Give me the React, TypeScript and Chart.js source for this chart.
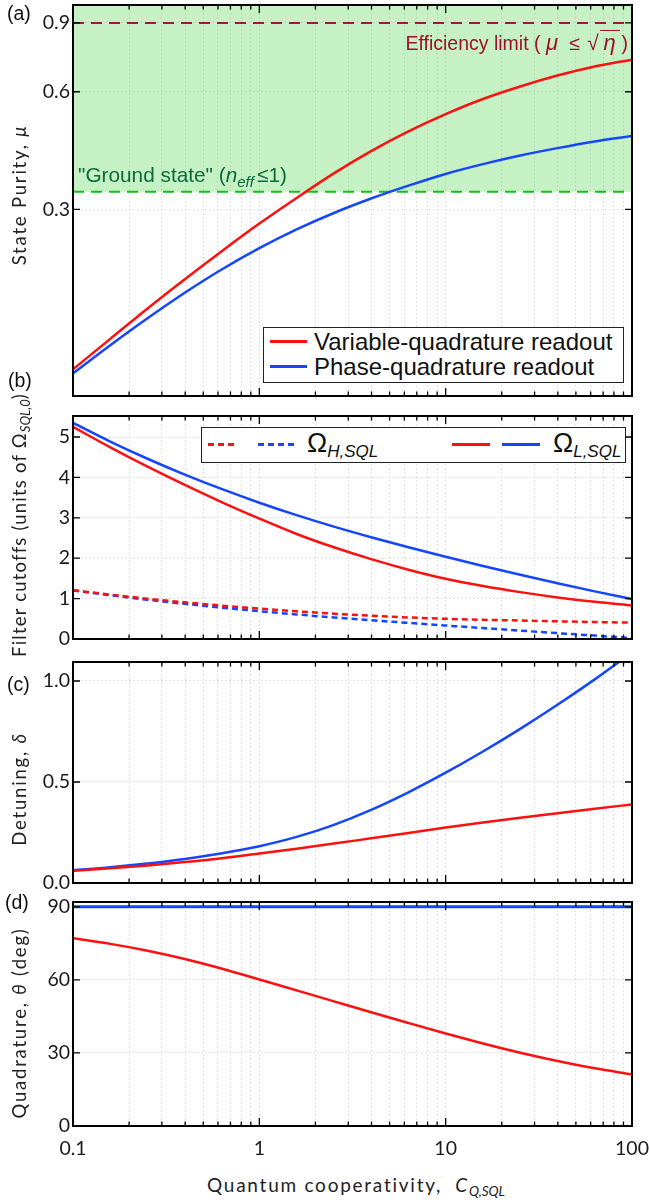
import React, { useEffect, useRef } from "react";
import { Chart, registerables } from "chart.js";

Chart.register(...registerables);

// ---------------- data ----------------
const xValues = [0.1, 0.1585, 0.2512, 0.3981, 0.631, 1, 1.585, 2.512, 3.981, 6.31, 10, 15.85, 25.12, 39.81, 63.1, 100];

const purityVariable = [0.117, 0.14, 0.1675, 0.199, 0.235, 0.276, 0.321, 0.371, 0.423, 0.475, 0.526, 0.575, 0.619, 0.66, 0.696, 0.725];
const purityPhase = [0.1143, 0.1349, 0.1581, 0.1837, 0.2109, 0.2388, 0.2667, 0.2938, 0.3199, 0.3451, 0.3698, 0.3917, 0.4121, 0.4305, 0.4477, 0.4624];
const limitX = [0.1, 100];
const efficiencyLimit = [0.9, 0.9];
const groundStateLimit = [0.333, 0.333];

const cutoffLowVariable = [5.25, 4.744, 4.266, 3.814, 3.384, 2.98, 2.6, 2.27, 1.977, 1.716, 1.49, 1.31, 1.16, 1.03, 0.92, 0.83];
const cutoffLowPhase = [5.35, 4.888, 4.462, 4.07, 3.708, 3.374, 3.066, 2.782, 2.519, 2.271, 2.035, 1.809, 1.591, 1.381, 1.179, 0.99];
const cutoffHighVariable = [1.21, 1.099, 0.999, 0.908, 0.826, 0.752, 0.686, 0.627, 0.575, 0.533, 0.5, 0.476, 0.457, 0.438, 0.42, 0.405];
const cutoffHighPhase = [1.2, 1.081, 0.971, 0.87, 0.776, 0.689, 0.608, 0.534, 0.465, 0.399, 0.334, 0.27, 0.207, 0.145, 0.084, 0.024];

const detuningVariable = [0.061, 0.073, 0.087, 0.104, 0.123, 0.146, 0.17, 0.195, 0.221, 0.247, 0.275, 0.2995, 0.323, 0.3456, 0.3675, 0.389];
const detuningPhase = [0.063, 0.0778, 0.0962, 0.1189, 0.1473, 0.1821, 0.2281, 0.2881, 0.3621, 0.4491, 0.5461, 0.6511, 0.7631, 0.8821, 1.0081, 1.1411];

const quadratureVariable = [77.1, 74.8, 72.0, 68.6, 64.6, 60.2, 55.7, 51.2, 46.7, 42.3, 38.0, 33.9, 30.1, 26.7, 23.7, 21.2];
const quadraturePhase = [90, 90, 90, 90, 90, 90, 90, 90, 90, 90, 90, 90, 90, 90, 90, 90];

// ticks
const xGridTicks = [0.1, 0.2, 0.3, 0.4, 0.5, 0.6, 0.7, 0.8, 0.9, 1, 2, 3, 4, 5, 6, 7, 8, 9, 10, 20, 30, 40, 50, 60, 70, 80, 90, 100];
const xMajorTicks = [0.1, 1, 10, 100];
const xTickLabels = ["0.1", "1", "10", "100"];

const purityTicks = [0.3, 0.6, 0.9];
const purityLabels = ["0.3", "0.6", "0.9"];
const cutoffTicks = [0, 1, 2, 3, 4, 5];
const cutoffLabels = ["0", "1", "2", "3", "4", "5"];
const detuningTicks = [0, 0.5, 1.0];
const detuningLabels = ["0.0", "0.5", "1.0"];
const quadratureTicks = [0, 30, 60, 90];
const quadratureLabels = ["0", "30", "60", "90"];

// ---------------- styling ----------------
const RED = "#ff1010";
const BLUE = "#1446ff";
const TICK_FONT = { family: "Lato", size: 19.5 };

const pts = (xs: number[], ys: number[]) => xs.map((x, i) => ({ x, y: ys[i] }));

function framePlugin(yTicks: number[]) {
  return {
    id: "frame",
    afterDraw(chart: any) {
      const { ctx, chartArea: a, scales } = chart;
      const xs = scales.x;
      const ys = scales.y;
      ctx.save();
      ctx.strokeStyle = "#000";
      ctx.lineWidth = 1.3;
      ctx.beginPath();
      xGridTicks.forEach((v) => {
        const px = xs.getPixelForValue(v);
        const len = xMajorTicks.includes(v) ? 8 : 4.5;
        ctx.moveTo(px, a.top);
        ctx.lineTo(px, a.top + len);
        ctx.moveTo(px, a.bottom);
        ctx.lineTo(px, a.bottom - len);
      });
      yTicks.forEach((v) => {
        const py = ys.getPixelForValue(v);
        ctx.moveTo(a.left, py);
        ctx.lineTo(a.left + 7, py);
        ctx.moveTo(a.right, py);
        ctx.lineTo(a.right - 7, py);
      });
      ctx.stroke();
      ctx.lineWidth = 2;
      ctx.strokeRect(a.left, a.top, a.right - a.left, a.bottom - a.top);
      ctx.restore();
    },
  };
}

interface PanelSpec {
  canvasTop: number;
  canvasHeight: number;
  padTop: number;
  padBottom: number;
  xHeight: number;
  showX: boolean;
  yType: string;
  yMin: number;
  yMax: number;
  yTicks: number[];
  yLabels: string[];
  datasets: any[];
}

function buildConfig(p: PanelSpec): any {
  const grid = { color: "#e2e2e2", lineWidth: 1, drawTicks: false };
  const border = { display: false, dash: [2, 2] };
  return {
    type: "line",
    data: { datasets: p.datasets },
    options: {
      responsive: false,
      animation: false,
      events: [],
      layout: { padding: { left: 0, right: 18, top: p.padTop, bottom: p.padBottom } },
      plugins: { legend: { display: false }, tooltip: { enabled: false } },
      elements: {
        point: { radius: 0 },
        line: { borderWidth: 2.5, cubicInterpolationMode: "monotone" },
      },
      scales: {
        x: {
          type: "logarithmic",
          min: 0.1,
          max: 100,
          afterBuildTicks: (s: any) => {
            s.ticks = xGridTicks.map((v) => ({ value: v }));
          },
          afterFit: (s: any) => {
            s.height = p.xHeight;
            s.paddingLeft = 0;
            s.paddingRight = 0;
          },
          grid,
          border,
          ticks: {
            display: p.showX,
            autoSkip: false,
            maxRotation: 0,
            padding: 11,
            font: TICK_FONT,
            color: "#1a1a1a",
            callback: (v: number) => {
              const i = xMajorTicks.indexOf(v);
              return i >= 0 ? xTickLabels[i] : "";
            },
          },
        },
        y: {
          type: p.yType,
          min: p.yMin,
          max: p.yMax,
          afterBuildTicks: (s: any) => {
            s.ticks = p.yTicks.map((v) => ({ value: v }));
          },
          afterFit: (s: any) => {
            s.width = 73;
            s.paddingTop = 0;
            s.paddingBottom = 0;
          },
          grid,
          border,
          ticks: {
            padding: 3,
            autoSkip: false,
            font: TICK_FONT,
            color: "#1a1a1a",
            callback: (v: number) => {
              const i = p.yTicks.indexOf(v);
              return i >= 0 ? p.yLabels[i] : "";
            },
          },
        },
      },
    },
    plugins: [framePlugin(p.yTicks)],
  };
}

const panels: PanelSpec[] = [
  {
    canvasTop: 0,
    canvasHeight: 408,
    padTop: 5,
    padBottom: 12,
    xHeight: 0,
    showX: false,
    yType: "logarithmic",
    yMin: 0.1,
    yMax: 1.0,
    yTicks: purityTicks,
    yLabels: purityLabels,
    datasets: [
      { data: pts(xValues, purityVariable), borderColor: RED },
      { data: pts(xValues, purityPhase), borderColor: BLUE },
      { data: pts(limitX, efficiencyLimit), borderColor: "#9e1642", borderDash: [11, 7], borderWidth: 2 },
      {
        data: pts(limitX, groundStateLimit),
        borderColor: "#16c016",
        borderDash: [11, 7],
        borderWidth: 2,
        fill: "end",
        backgroundColor: "rgba(40,205,40,0.27)",
      },
    ],
  },
  {
    canvasTop: 404,
    canvasHeight: 247,
    padTop: 12,
    padBottom: 12,
    xHeight: 0,
    showX: false,
    yType: "linear",
    yMin: 0,
    yMax: 5.52,
    yTicks: cutoffTicks,
    yLabels: cutoffLabels,
    datasets: [
      { data: pts(xValues, cutoffLowVariable), borderColor: RED },
      { data: pts(xValues, cutoffLowPhase), borderColor: BLUE },
      { data: pts(xValues, cutoffHighVariable), borderColor: RED, borderDash: [6, 4] },
      { data: pts(xValues, cutoffHighPhase), borderColor: BLUE, borderDash: [6, 4] },
    ],
  },
  {
    canvasTop: 650,
    canvasHeight: 245,
    padTop: 12,
    padBottom: 12,
    xHeight: 0,
    showX: false,
    yType: "linear",
    yMin: 0,
    yMax: 1.094,
    yTicks: detuningTicks,
    yLabels: detuningLabels,
    datasets: [
      { data: pts(xValues, detuningVariable), borderColor: RED },
      { data: pts(xValues, detuningPhase), borderColor: BLUE },
    ],
  },
  {
    canvasTop: 890,
    canvasHeight: 280,
    padTop: 12,
    padBottom: 0,
    xHeight: 44,
    showX: true,
    yType: "linear",
    yMin: 0,
    yMax: 92,
    yTicks: quadratureTicks,
    yLabels: quadratureLabels,
    datasets: [
      { data: pts(xValues, quadratureVariable), borderColor: RED },
      { data: pts(xValues, quadraturePhase), borderColor: BLUE, borderWidth: 3 },
    ],
  },
];

// ---------------- text helpers ----------------
const AX_FONT: React.CSSProperties = {
  fontFamily: "Lato",
  fontSize: 18.5,
  letterSpacing: "1.8px",
  color: "#222",
  whiteSpace: "nowrap",
  lineHeight: 1,
};
const HELV: React.CSSProperties = { fontFamily: "'Liberation Sans', Arial, sans-serif", whiteSpace: "nowrap", lineHeight: 1 };

function YTitle({ x, y, spacing, children }: { x: number; y: number; spacing?: number; children: React.ReactNode }) {
  return (
    <div
      style={{
        ...AX_FONT,
        letterSpacing: `${spacing ?? 1.8}px`,
        position: "absolute",
        left: x,
        top: y,
        transform: "translate(-50%, -50%) rotate(-90deg)",
      }}
    >
      {children}
    </div>
  );
}

function PanelTag({ x, y, text }: { x: number; y: number; text: string }) {
  return (
    <div style={{ ...HELV, position: "absolute", left: x, top: y, transform: "translateY(-50%)", fontSize: 19.5, color: "#111" }}>
      {text}
    </div>
  );
}

const sub = (t: string, size: number, shift: string) => (
  <span style={{ fontSize: size, fontStyle: "italic", verticalAlign: shift, letterSpacing: 0 }}>{t}</span>
);

const box = (w: number, content: React.ReactNode, extra?: React.CSSProperties) => (
  <span style={{ display: "inline-block", width: w, textAlign: "center", ...extra }}>{content}</span>
);

function Swatch({ x, y, w, color, dashed }: { x: number; y: number; w: number; color: string; dashed?: boolean }) {
  return (
    <div
      style={{
        position: "absolute",
        left: x,
        top: y - 1.5,
        width: w,
        height: 3,
        background: dashed ? `repeating-linear-gradient(90deg, ${color} 0 6px, transparent 6px 10px)` : color,
      }}
    />
  );
}

export default function App() {
  const r0 = useRef<HTMLCanvasElement>(null);
  const r1 = useRef<HTMLCanvasElement>(null);
  const r2 = useRef<HTMLCanvasElement>(null);
  const r3 = useRef<HTMLCanvasElement>(null);
  const refs = [r0, r1, r2, r3];

  useEffect(() => {
    const charts = panels.map((p, i) => new Chart(refs[i].current as HTMLCanvasElement, buildConfig(p)));
    return () => charts.forEach((c) => c.destroy());
  }, []);

  return (
    <div style={{ position: "absolute", left: 0, top: 0, width: 650, height: 1204, background: "#fff", overflow: "hidden" }}>
      {panels.map((p, i) => (
        <canvas
          key={i}
          ref={refs[i]}
          width={650}
          height={p.canvasHeight}
          style={{ position: "absolute", left: 0, top: p.canvasTop, width: 650, height: p.canvasHeight }}
        />
      ))}

      {/* panel tags */}
      <PanelTag x={7} y={14} text="(a)" />
      <PanelTag x={8} y={381} text="(b)" />
      <PanelTag x={7} y={685} text="(c)" />
      <PanelTag x={5} y={903} text="(d)" />

      {/* y titles */}
      <YTitle x={19} y={195}>
        State Purity, <i>μ</i>
      </YTitle>
      <YTitle x={21} y={525} spacing={1.2}>
        Filter cutoffs (units of Ω{sub("SQL,0", 13, "-0.25em")})
      </YTitle>
      <YTitle x={19} y={789}>
        Detuning, <i>δ</i>
      </YTitle>
      <YTitle x={19} y={1023}>
        Quadrature, <i>θ</i> (deg)
      </YTitle>

      {/* x title */}
      <div style={{ ...AX_FONT, fontSize: 19, letterSpacing: "1.75px", position: "absolute", left: 207, top: 1187, transform: "translateY(-50%)" }}>
        Quantum cooperativity,&nbsp; <i>C</i>
        {sub("Q,SQL", 13.5, "-0.3em")}
      </div>

      {/* annotations panel (a) */}
      <div style={{ ...HELV, position: "absolute", right: 650 - 628, top: 42, transform: "translateY(-50%)", fontSize: 19.5, color: "#a0102c" }}>
        Efficiency limit (
        {box(15, <i style={{ fontSize: 22 }}>μ</i>, { marginLeft: 4, marginRight: 9 })}
        {box(12, "≤")}
        {box(13, <span style={{ fontSize: 21 }}>√</span>, { marginLeft: 6 })}
        {box(20, <i style={{ fontSize: 22 }}>η</i>, { borderTop: "1.5px solid #a0102c", lineHeight: 1.05 })}
        <span style={{ marginLeft: 2 }}>)</span>
      </div>
      <div style={{ ...HELV, position: "absolute", left: 78, top: 177, transform: "translateY(-50%)", fontSize: 20.8, color: "#0b6b3a" }}>
        "Ground state" (<i>n</i>
        {sub("eff", 15, "-0.3em")}
        <span style={{ marginLeft: 3 }}>≤</span>1)
      </div>

      {/* legend (a) */}
      <div
        style={{
          position: "absolute",
          left: 263,
          top: 327,
          width: 361,
          height: 56,
          border: "1.5px solid #222",
          background: "#fff",
          boxSizing: "border-box",
        }}
      >
        <Swatch x={6} y={13.5} w={37} color={RED} />
        <Swatch x={6} y={38.5} w={37} color={BLUE} />
        <div style={{ ...HELV, position: "absolute", left: 50, top: 13.5, transform: "translateY(-50%)", fontSize: 24, color: "#111" }}>
          Variable-quadrature readout
        </div>
        <div style={{ ...HELV, position: "absolute", left: 50, top: 38.5, transform: "translateY(-50%)", fontSize: 24, color: "#111" }}>
          Phase-quadrature readout
        </div>
      </div>

      {/* legend (b) */}
      <div
        style={{
          position: "absolute",
          left: 201,
          top: 427,
          width: 425,
          height: 36,
          border: "1.5px solid #222",
          background: "#fff",
          boxSizing: "border-box",
        }}
      >
        <Swatch x={6} y={16} w={27} color={RED} dashed />
        <Swatch x={56} y={16} w={38} color={BLUE} dashed />
        <div style={{ ...HELV, position: "absolute", left: 105, top: 17, transform: "translateY(-50%)", fontSize: 27, color: "#111" }}>
          Ω{sub("H,SQL", 17, "-0.35em")}
        </div>
        <Swatch x={250} y={16} w={38} color={RED} />
        <Swatch x={300} y={16} w={38} color={BLUE} />
        <div style={{ ...HELV, position: "absolute", left: 351, top: 17, transform: "translateY(-50%)", fontSize: 27, color: "#111" }}>
          Ω{sub("L,SQL", 17, "-0.35em")}
        </div>
      </div>
    </div>
  );
}
